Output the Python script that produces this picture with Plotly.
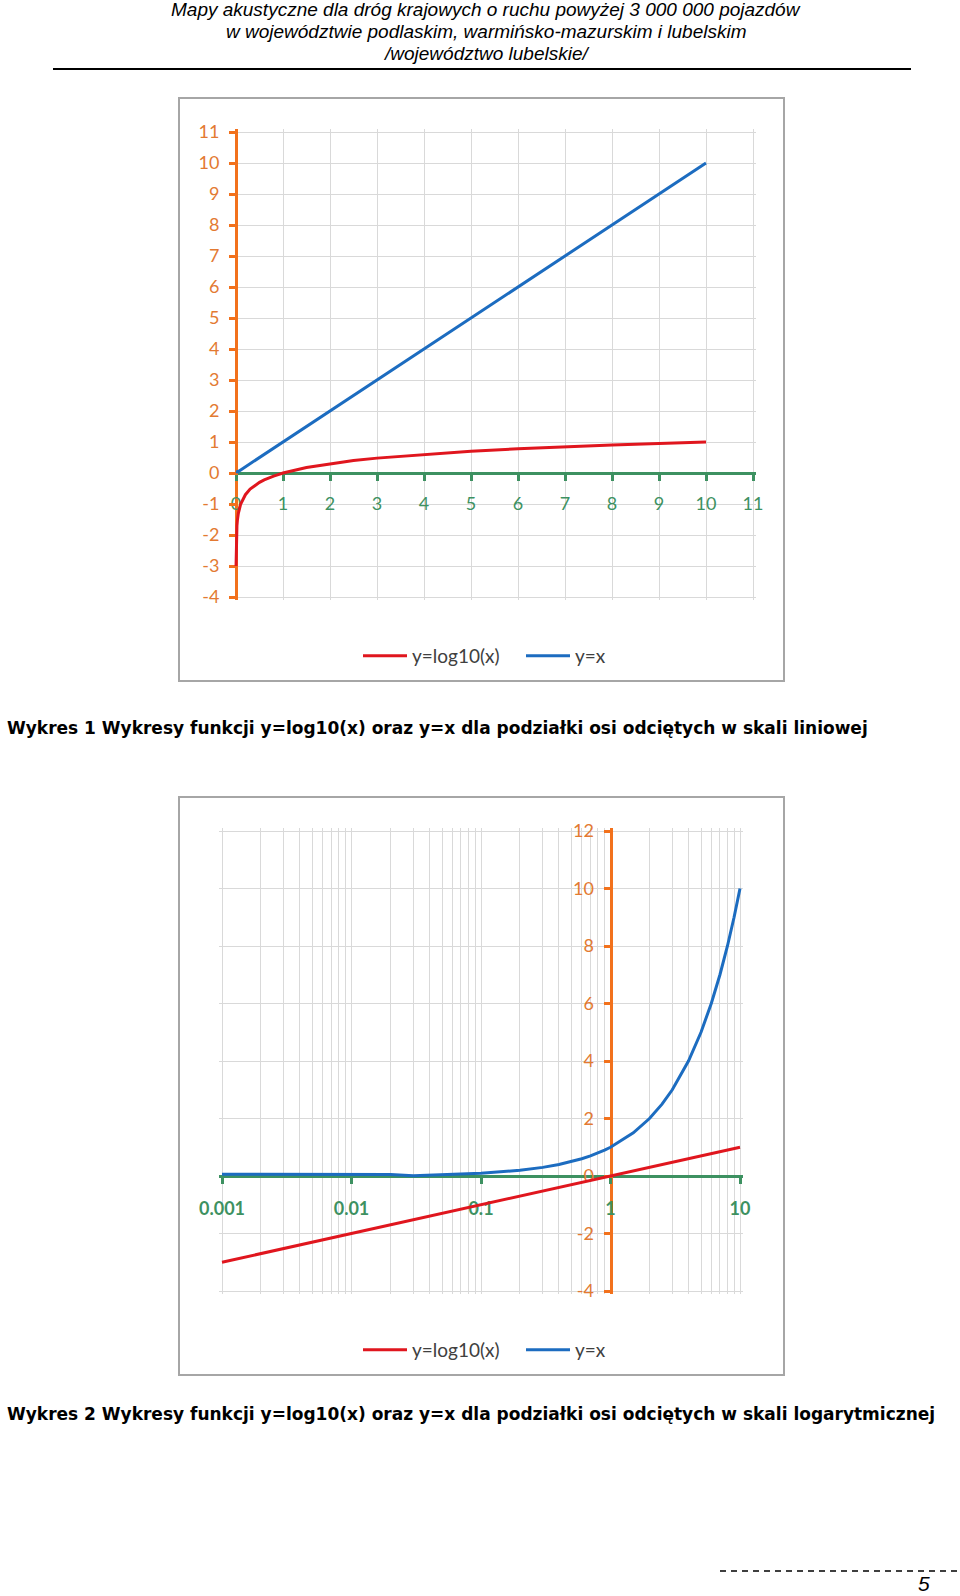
import plotly.graph_objects as go

# ---------------- data ----------------
x_vals = [0.001, 0.002, 0.005, 0.01, 0.02, 0.03, 0.05, 0.1, 0.2, 0.3, 0.4, 0.5,
          0.6, 0.7, 0.8, 0.9, 1, 1.5, 2, 2.5, 3, 4, 5, 6, 7, 8, 9, 10]
log_vals = [-3, -2.7, -2.3, -2, -1.7, -1.52, -1.3, -1, -0.7, -0.52, -0.4, -0.3,
            -0.22, -0.15, -0.1, -0.05, 0, 0.18, 0.3, 0.4, 0.48, 0.6, 0.7, 0.78,
            0.85, 0.9, 0.95, 1]
lin_vals = [0.06, 0.06, 0.06, 0.06, 0.05, 0.01, 0.05, 0.1, 0.2, 0.3, 0.4, 0.5,
            0.6, 0.7, 0.8, 0.9, 1, 1.5, 2, 2.5, 3, 4, 5, 6, 7, 8, 9, 10]

series_names = ["y=log10(x)", "y=x"]

x1_tickvals = [0, 1, 2, 3, 4, 5, 6, 7, 8, 9, 10, 11]
x1_ticktext = ["0", "1", "2", "3", "4", "5", "6", "7", "8", "9", "10", "11"]
y1_tickvals = [-4, -3, -2, -1, 0, 1, 2, 3, 4, 5, 6, 7, 8, 9, 10, 11]
y1_ticktext = ["-4", "-3", "-2", "-1", "0", "1", "2", "3", "4", "5", "6", "7", "8", "9", "10", "11"]
x2_tickvals = [0.001, 0.01, 0.1, 1, 10]
x2_ticktext = ["0.001", "0.01", "0.1", "1", "10"]
y2_tickvals = [-4, -2, 0, 2, 4, 6, 8, 10, 12]
y2_ticktext = ["-4", "-2", "0", "2", "4", "6", "8", "10", "12"]

header_lines = [
    "Mapy akustyczne dla dróg krajowych o ruchu powyżej 3 000 000 pojazdów",
    "w województwie podlaskim, warmińsko-mazurskim i lubelskim",
    "/województwo lubelskie/",
]
caption1 = "Wykres 1 Wykresy funkcji y=log10(x) oraz y=x dla podziałki osi odciętych w skali liniowej"
caption2 = "Wykres 2 Wykresy funkcji y=log10(x) oraz y=x dla podziałki osi odciętych w skali logarytmicznej"
page_no = "5"

# ---------------- style ----------------
W, H = 960, 1596
RED = "#E0161E"
BLUE = "#1C6CC0"
GREEN = "#3D9161"
ORANGE = "#F2711C"
ORANGE_TXT = "#E37A32"
GRID = "#D9D9D9"
FONT = "Lato"
EDGE = 3  # px of padding so that the edge gridlines are drawn


def px(x):
    return x / W


def py(y):
    return 1 - y / H


def padded_x(lo, hi, p0, p1):
    k = (hi - lo) / (p1 - p0)
    return [lo - EDGE * k, hi + EDGE * k], [px(p0 - EDGE), px(p1 + EDGE)]


def padded_y(lo, hi, p_bottom, p_top):
    k = (hi - lo) / (p_bottom - p_top)
    return [lo - EDGE * k, hi + EDGE * k], [py(p_bottom + EDGE), py(p_top - EDGE)]


# chart 1 plot area (pixels)
C1_L, C1_R, C1_T, C1_B = 236, 753, 132, 597
X1_MIN, X1_MAX = 0, 11
Y1_MIN, Y1_MAX = -4, 11
# chart 2 plot area (pixels)
C2_L, C2_R, C2_T, C2_B = 222, 740, 831, 1291
X2_MIN, X2_MAX = -3, 1
Y2_MIN, Y2_MAX = -4, 12

x1_range, x1_dom = padded_x(X1_MIN, X1_MAX, C1_L, C1_R)
y1_range, y1_dom = padded_y(Y1_MIN, Y1_MAX, C1_B, C1_T)
x2_range, x2_dom = padded_x(X2_MIN, X2_MAX, C2_L, C2_R)
y2_range, y2_dom = padded_y(Y2_MIN, Y2_MAX, C2_B, C2_T)

x1_pos = py(C1_B - (0 - Y1_MIN) / (Y1_MAX - Y1_MIN) * (C1_B - C1_T))
y1_pos = px(C1_L)
x2_pos = py(C2_B - (0 - Y2_MIN) / (Y2_MAX - Y2_MIN) * (C2_B - C2_T))
y2_pos = px(C2_L + (0 - X2_MIN) / (X2_MAX - X2_MIN) * (C2_R - C2_L))

fig = go.Figure()
fig.add_trace(go.Scatter(x=x_vals, y=log_vals, mode="lines", name=series_names[0],
                         line=dict(color=RED, width=3), xaxis="x", yaxis="y", legend="legend"))
fig.add_trace(go.Scatter(x=x_vals, y=lin_vals, mode="lines", name=series_names[1],
                         line=dict(color=BLUE, width=3), xaxis="x", yaxis="y", legend="legend"))
fig.add_trace(go.Scatter(x=x_vals, y=log_vals, mode="lines", name=series_names[0],
                         line=dict(color=RED, width=3), xaxis="x2", yaxis="y2", legend="legend2"))
fig.add_trace(go.Scatter(x=x_vals, y=lin_vals, mode="lines", name=series_names[1],
                         line=dict(color=BLUE, width=3), xaxis="x2", yaxis="y2", legend="legend2"))

tick_font = dict(family=FONT, size=18)

legend_common = dict(orientation="h", xanchor="left", yanchor="middle", x=px(358),
                     font=dict(family=FONT, size=19, color="#404040"),
                     bgcolor="rgba(0,0,0,0)", itemwidth=44, tracegroupgap=0,
                     entrywidth=104, entrywidthmode="pixels")

axis_common = dict(showgrid=True, gridcolor=GRID, gridwidth=1, zeroline=False,
                   automargin=False, layer="below traces", anchor="free",
                   showline=True, linewidth=3, ticks="outside", tickwidth=3, ticklen=6,
                   tickmode="array")

fig.update_layout(
    template="none",
    width=W, height=H,
    margin=dict(l=0, r=0, t=0, b=0, pad=0),
    autosize=False,
    paper_bgcolor="white", plot_bgcolor="white",
    showlegend=True,
    xaxis=dict(axis_common, domain=x1_dom, range=x1_range,
               tickvals=x1_tickvals, ticktext=x1_ticktext,
               linecolor=GREEN, tickcolor=GREEN,
               tickfont=dict(tick_font, color=GREEN), ticklabelstandoff=7,
               position=x1_pos),
    yaxis=dict(axis_common, domain=y1_dom, range=y1_range,
               tickvals=y1_tickvals, ticktext=y1_ticktext,
               linecolor=ORANGE, tickcolor=ORANGE,
               tickfont=dict(tick_font, color=ORANGE_TXT), ticklabelstandoff=6,
               position=y1_pos),
    xaxis2=dict(axis_common, domain=x2_dom, type="log", range=x2_range,
                tickvals=x2_tickvals, ticktext=x2_ticktext,
                minor=dict(dtick="D1", showgrid=True, gridcolor=GRID, gridwidth=1, ticks=""),
                linecolor=GREEN, tickcolor=GREEN,
                tickfont=dict(family=FONT, size=18, color=GREEN, weight="bold"),
                ticklabelstandoff=9,
                position=x2_pos),
    yaxis2=dict(axis_common, domain=y2_dom, range=y2_range,
                tickvals=y2_tickvals, ticktext=y2_ticktext,
                linecolor=ORANGE, tickcolor=ORANGE,
                tickfont=dict(tick_font, color=ORANGE_TXT), ticklabelstandoff=6,
                position=y2_pos),
    legend=dict(legend_common, y=py(656)),
    legend2=dict(legend_common, y=py(1350)),
)

annotations = []
for i, line in enumerate(header_lines):
    annotations.append(dict(text=line, xref="paper", yref="paper", x=px(486), y=py(10 + 21.5 * i),
                            xanchor="center", yanchor="middle", showarrow=False,
                            font=dict(family="Liberation Sans", size=19, color="black", style="italic")))
annotations.append(dict(text=caption1, xref="paper", yref="paper", x=px(5), y=py(728),
                        xanchor="left", yanchor="middle", showarrow=False,
                        font=dict(family="DejaVu Sans", size=17, color="black", weight="bold")))
annotations.append(dict(text=caption2, xref="paper", yref="paper", x=px(5), y=py(1414),
                        xanchor="left", yanchor="middle", showarrow=False,
                        font=dict(family="DejaVu Sans", size=17, color="black", weight="bold")))
annotations.append(dict(text=page_no, xref="paper", yref="paper", x=px(924), y=py(1583),
                        xanchor="center", yanchor="middle", showarrow=False,
                        font=dict(family="Liberation Sans", size=21, color="black", style="italic")))

shapes = [
    dict(type="line", xref="paper", yref="paper", x0=px(53), x1=px(911), y0=py(69), y1=py(69),
         line=dict(color="black", width=2)),
    dict(type="rect", xref="paper", yref="paper", x0=px(179), x1=px(784), y0=py(98), y1=py(681),
         line=dict(color="#A6A6A6", width=2), layer="below"),
    dict(type="rect", xref="paper", yref="paper", x0=px(179), x1=px(784), y0=py(797), y1=py(1375),
         line=dict(color="#A6A6A6", width=2), layer="below"),
    dict(type="line", xref="paper", yref="paper", x0=px(720), x1=px(960), y0=py(1571), y1=py(1571),
         line=dict(color="black", width=1.5, dash="6px,5px")),
]
fig.update_layout(annotations=annotations, shapes=shapes)

fig.write_html("out.html")
